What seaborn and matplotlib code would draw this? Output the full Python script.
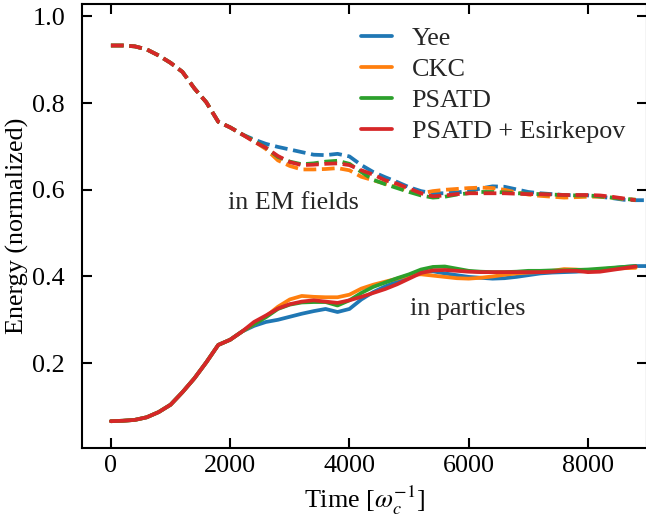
import numpy as np
import pandas as pd
import matplotlib
matplotlib.use("Agg")
import matplotlib.pyplot as plt
import seaborn as sns

# ---------------- data ----------------
time = list(range(0, 9001, 200))  # 0 ... 9000

labels = ["Yee", "CKC", "PSATD", "PSATD + Esirkepov"]
colors = ["#1f77b4", "#ff7f0e", "#2ca02c", "#d62728"]

# common part (t = 0 ... 2200)
em_common = [0.933, 0.933, 0.931, 0.924, 0.910, 0.893, 0.872, 0.834,
             0.802, 0.757, 0.744, 0.728]
part_common = [0.066, 0.067, 0.069, 0.075, 0.087, 0.104, 0.133, 0.165,
               0.202, 0.242, 0.254, 0.273]

# energy in EM fields, t = 2400 ... 9000
em_yee = [0.716, 0.706, 0.699, 0.693, 0.687, 0.681, 0.680, 0.683, 0.677, 0.657,
          0.641, 0.629, 0.618, 0.606, 0.597, 0.592, 0.592, 0.594, 0.597, 0.603,
          0.608, 0.607, 0.601, 0.595, 0.592, 0.590, 0.588, 0.587, 0.587, 0.584,
          0.581, 0.577, 0.576, 0.576]
em_ckc = [0.712, 0.694, 0.668, 0.655, 0.647, 0.647, 0.648, 0.650, 0.645, 0.630,
          0.622, 0.614, 0.606, 0.597, 0.592, 0.597, 0.600, 0.602, 0.604, 0.605,
          0.604, 0.600, 0.594, 0.589, 0.586, 0.584, 0.582, 0.583, 0.584, 0.584,
          0.582, 0.579, 0.577, np.nan]
em_psatd = [0.713, 0.697, 0.676, 0.665, 0.659, 0.661, 0.665, 0.667, 0.660, 0.641,
            0.623, 0.613, 0.604, 0.595, 0.587, 0.582, 0.584, 0.589, 0.592, 0.595,
            0.595, 0.594, 0.592, 0.591, 0.590, 0.589, 0.588, 0.587, 0.587, 0.585,
            0.582, 0.579, 0.577, np.nan]
em_esirk = [0.711, 0.697, 0.678, 0.664, 0.657, 0.658, 0.660, 0.661, 0.657, 0.645,
            0.635, 0.622, 0.614, 0.603, 0.592, 0.585, 0.587, 0.590, 0.592, 0.592,
            0.592, 0.592, 0.591, 0.590, 0.590, 0.589, 0.588, 0.588, 0.588, 0.587,
            0.584, 0.580, 0.576, np.nan]

# energy in particles, t = 2400 ... 9000
part_yee = [0.286, 0.295, 0.300, 0.307, 0.314, 0.320, 0.325, 0.318, 0.325, 0.347,
            0.364, 0.377, 0.388, 0.399, 0.409, 0.412, 0.407, 0.403, 0.399, 0.397,
            0.395, 0.396, 0.399, 0.403, 0.407, 0.409, 0.410, 0.411, 0.413, 0.416,
            0.419, 0.422, 0.424, 0.424]
part_ckc = [0.290, 0.308, 0.330, 0.347, 0.355, 0.353, 0.352, 0.352, 0.358, 0.372,
            0.381, 0.388, 0.395, 0.403, 0.405, 0.402, 0.399, 0.396, 0.395, 0.397,
            0.400, 0.404, 0.407, 0.409, 0.410, 0.413, 0.417, 0.416, 0.414, 0.416,
            0.418, 0.419, 0.420, np.nan]
part_psatd = [0.290, 0.306, 0.325, 0.335, 0.340, 0.341, 0.341, 0.333, 0.345, 0.362,
              0.376, 0.386, 0.396, 0.405, 0.416, 0.422, 0.423, 0.418, 0.413, 0.411,
              0.410, 0.410, 0.411, 0.413, 0.413, 0.414, 0.414, 0.415, 0.416, 0.418,
              0.420, 0.422, 0.424, np.nan]
part_esirk = [0.295, 0.310, 0.326, 0.336, 0.342, 0.345, 0.342, 0.339, 0.345, 0.353,
              0.362, 0.371, 0.382, 0.395, 0.408, 0.414, 0.415, 0.413, 0.411, 0.410,
              0.410, 0.410, 0.410, 0.410, 0.410, 0.411, 0.413, 0.413, 0.410, 0.411,
              0.415, 0.419, 0.423, np.nan]

em_series = [em_yee, em_ckc, em_psatd, em_esirk]
part_series = [part_yee, part_ckc, part_psatd, part_esirk]

# ---------------- style ----------------
sns.set_theme(style="ticks")
plt.rcParams["font.family"] = ["Liberation Serif", "DejaVu Serif"]
plt.rcParams["mathtext.fontset"] = "stix"
plt.rcParams["axes.linewidth"] = 1.5

FS = 18.8
fig = plt.figure(figsize=(6.46, 5.21), dpi=100)
ax = fig.add_axes([0.1265, 0.140, 0.8750, 0.8525])

lw = 2.7
for lab, col, em, pa in zip(labels, colors, em_series, part_series):
    df = pd.DataFrame({"t": time, "em": em_common + em, "part": part_common + pa})
    df = df.dropna()
    sns.lineplot(data=df, x="t", y="em", ax=ax, color=col, lw=lw,
                 linestyle=(0, (3.4, 1.5)), legend=False)
    sns.lineplot(data=df, x="t", y="part", ax=ax, color=col, lw=lw,
                 linestyle="-", label=lab, legend=False)

ax.set_xlim(-490, 8990)
ax.set_ylim(0.004, 1.029)
ax.set_xticks([0, 2000, 4000, 6000, 8000])
ax.set_yticks([0.2, 0.4, 0.6, 0.8, 1.0])
ax.set_yticklabels(["0.2", "0.4", "0.6", "0.8", "1.0"])

ax.tick_params(direction="in", top=True, right=True, length=7.5, width=1.5,
               labelsize=FS, colors="black")
ax.tick_params(axis="x", pad=5)
ax.tick_params(axis="y", pad=12)
for s in ax.spines.values():
    s.set_color("black")
    s.set_linewidth(1.5)

ax.set_xlabel(r"Time [$\omega_c^{-1}$]", fontsize=FS, color="black", labelpad=4.5)
ax.set_ylabel("Energy (normalized)", fontsize=FS, color="black", labelpad=2.5)

ax.text(1960, 0.569, "in EM fields", fontsize=FS, va="center", ha="left")
ax.text(5010, 0.326, "in particles", fontsize=FS, va="center", ha="left")

handles, hlabels = ax.get_legend_handles_labels()
ax.legend(handles, hlabels, loc="upper left", bbox_to_anchor=(0.475, 0.972),
          frameon=False, fontsize=FS, handlelength=1.2, handletextpad=0.75,
          labelspacing=0.3, borderaxespad=0.0)

fig.savefig("out.png", dpi=100)
